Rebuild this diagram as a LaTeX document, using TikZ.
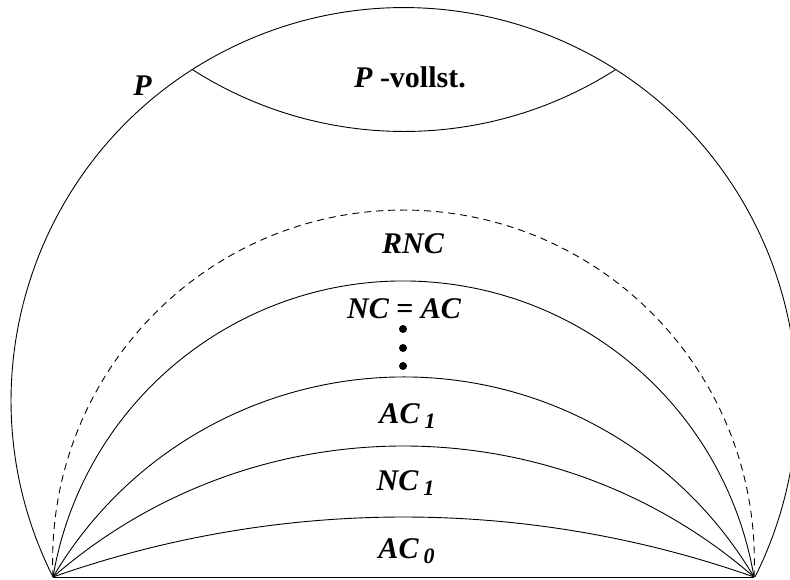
\documentclass[tikz,border=0pt]{standalone}
\usepackage{fontspec}
\setmainfont{Liberation Serif}
\begin{document}
\begin{tikzpicture}[x=1pt,y=1pt,
  ln/.style={line width=0.9pt,black},
  lbl/.style={anchor=base,inner sep=0pt,font=\fontsize{30}{36}\selectfont\bfseries\itshape},
  dotc/.style={fill=black,draw=none,circle,inner sep=0pt,minimum size=8pt}]
\useasboundingbox (0,0) rectangle (790,579);
\clip (0,0) rectangle (790,579);
\coordinate (L) at (53,2);
\coordinate (R) at (754,2);
\coordinate (PL) at (192.3,509.46);
\coordinate (PR) at (615.7,509.46);
% base line
\draw[ln] (L) -- (R);
% P circle
\draw[ln] (L) arc[start angle=206.696, end angle=-26.696, radius=392.88pt];
% P-vollst lower arc
\draw[ln] (PL) arc[start angle=237.39, end angle=302.61, radius=392.88pt];
% inner arcs
\draw[ln] (L) arc[start angle=109.43, end angle=70.57, radius=1053.75pt];
\draw[ln] (L) arc[start angle=130.99, end angle=49.01, radius=534.39pt];
\draw[ln] (L) arc[start angle=149.42, end angle=30.58, radius=407.125pt];
\draw[ln] (L) arc[start angle=170.36, end angle=9.64, radius=355.53pt];
\draw[ln,dash pattern=on 7pt off 5pt] (L) arc[start angle=182.63, end angle=-2.63, radius=350.88pt];
% labels
\node[lbl] (lP) at (142.5,483) {P};
\node[lbl] (lPv) at (410,491) {P {\upshape -vollst.}};
\node[lbl] (lRNC) at (413,325) {RNC};
\node[lbl] (lNCAC) at (404,260) {NC {\upshape =} AC};
\node[dotc] (d1) at (403,250) {};
\node[dotc] (d2) at (403,231) {};
\node[dotc] (d3) at (403,213) {};
\node[lbl] (lAC1) at (407.5,156) {AC\,{\fontsize{22}{22}\selectfont\raisebox{-5pt}{1}}};
\node[lbl] (lNC1) at (405.5,89) {NC\,{\fontsize{22}{22}\selectfont\raisebox{-5pt}{1}}};
\node[lbl] (lAC0) at (406.5,21) {AC\,{\fontsize{22}{22}\selectfont\raisebox{-5pt}{0}}};
\end{tikzpicture}
\end{document}
